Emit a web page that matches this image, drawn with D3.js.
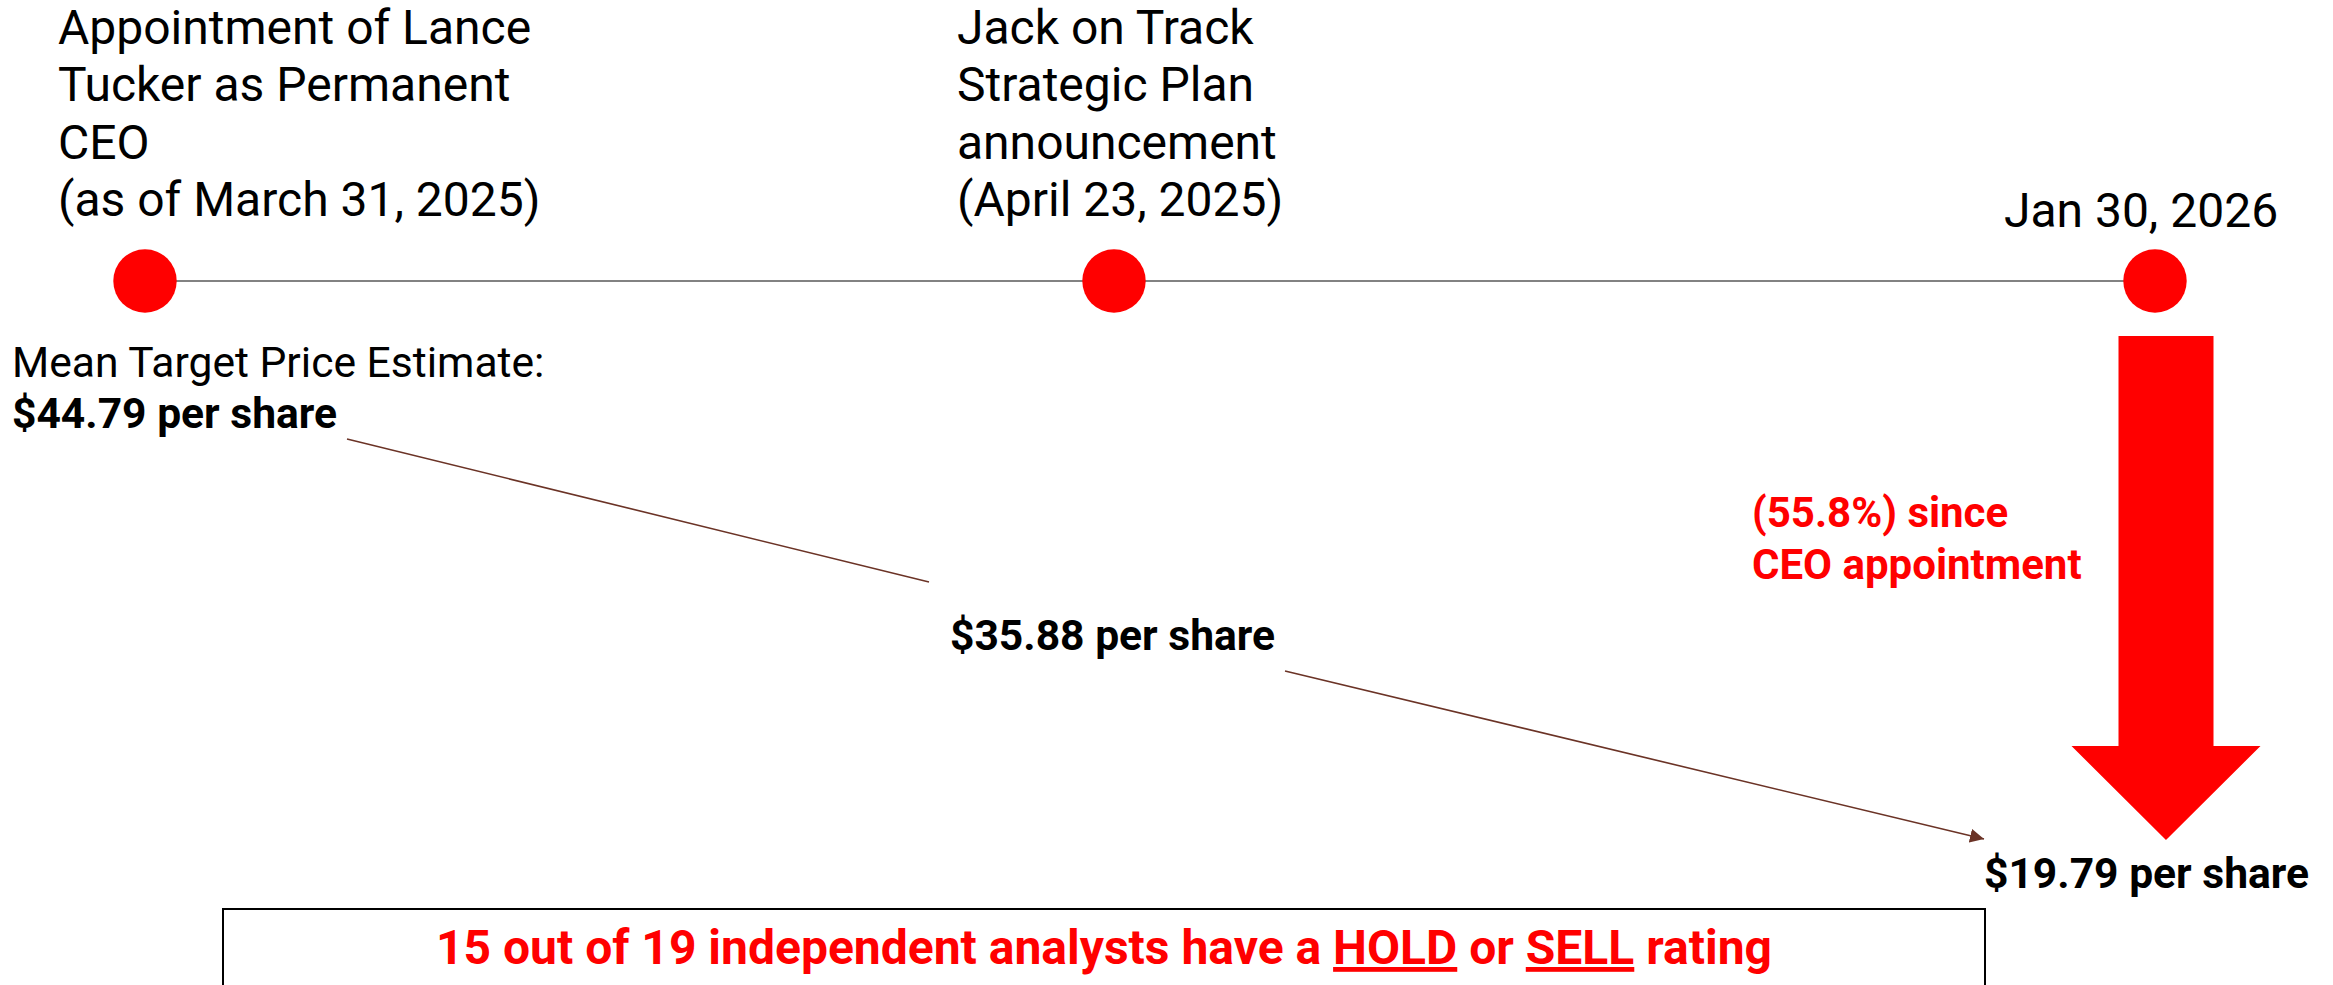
<!DOCTYPE html>
<html>
<head>
<meta charset="utf-8">
<script src="https://cdn.jsdelivr.net/npm/d3@7"></script>
<style>
	html, body { margin: 0; padding: 0; background: #fff; }
	svg { display: block; font-family: Roboto, "Open Sans", sans-serif; }
</style>
</head>
<body>
<div id="chart"></div>
<script>
// events on the timeline
var eventLabels = [
	["Appointment of Lance", "Tucker as Permanent", "CEO", "(as of March 31, 2025)"],
	["Jack on Track", "Strategic Plan", "announcement", "(April 23, 2025)"],
	["Jan 30, 2026"]
];
// mean target price at each event
var prices	= [44.79, 35.88, 19.79];
var priceTitle	= "Mean Target Price Estimate:";
// analyst ratings
var holdSell	= 15,
	analysts	= 19;

var W = 2333, H = 985;
var red = "#ff0000", brown = "#6b3326", grey = "#595959";

var svg = d3.select("#chart").append("svg").attr("width", W).attr("height", H);

var idx	= d3.range(eventLabels.length),
	x	= d3.scaleLinear().domain([0, 1, 2]).range([145, 1114, 2155]),
	yLine	= 281,
	yPrice	= d3.scaleLinear().domain([0, 1, 2]).range([428, 650, 888]);

// event label placement: offset of text from the dot, anchor and top baseline
var labelPos = [
	{dx: -87, anchor: "start", y: 44},
	{dx: -157, anchor: "start", y: 44},
	{dx: -14, anchor: "middle", y: 227}
];

// timeline
svg.append("line")
	.attr("x1", x(0)).attr("x2", x(idx.length - 1))
	.attr("y1", yLine).attr("y2", yLine)
	.attr("stroke", grey).attr("stroke-width", 1.6);

svg.selectAll("circle.evt").data(idx).enter().append("circle")
	.attr("class", "evt")
	.attr("cx", function(d) { return x(d); })
	.attr("cy", yLine)
	.attr("r", 31.7)
	.attr("fill", red);

svg.selectAll("text.evt").data(idx).enter().append("text")
	.attr("class", "evt")
	.attr("x", function(d) { return x(d) + labelPos[d].dx; })
	.attr("y", function(d) { return labelPos[d].y; })
	.attr("text-anchor", function(d) { return labelPos[d].anchor; })
	.style("font-size", "48px")
	.attr("fill", "#000")
	.each(function(d) {
		var t = d3.select(this);
		eventLabels[d].forEach(function(s, i) {
			t.append("tspan").attr("x", x(d) + labelPos[d].dx).attr("dy", i ? 57.3 : 0).text(s);
		});
	});

// price labels
var priceX = [12, 950, 1984];
svg.append("text")
	.attr("x", priceX[0]).attr("y", yPrice(0) - 51)
	.style("font-size", "42.6px")
	.text(priceTitle);

var pl = svg.selectAll("text.price").data(prices).enter().append("text")
	.attr("class", "price")
	.attr("x", function(d, i) { return priceX[i]; })
	.attr("y", function(d, i) { return yPrice(i); })
	.style("font-size", "42.6px").style("font-weight", "bold")
	.text(function(d) { return "$" + d3.format(".2f")(d) + " per share"; });

var boxes = [];
pl.each(function() { boxes.push(this.getBBox()); });

// connectors between price labels
svg.append("defs").append("marker")
	.attr("id", "tip").attr("viewBox", "0 0 10 10")
	.attr("refX", 10).attr("refY", 5)
	.attr("markerWidth", 14).attr("markerHeight", 14)
	.attr("markerUnits", "userSpaceOnUse")
	.attr("orient", "auto")
	.append("path").attr("d", "M0,0L10,5L0,10Z").attr("fill", brown);

var links = d3.pairs(d3.range(prices.length));
svg.selectAll("line.link").data(links).enter().append("line")
	.attr("class", "link")
	.attr("x1", function(d) { return boxes[d[0]].x + boxes[d[0]].width + 10; })
	.attr("y1", function(d) { return yPrice(d[0]) + (d[0] ? 21 : 11); })
	.attr("x2", function(d) { return boxes[d[1]].x - (d[1] < prices.length - 1 ? 21 : 0); })
	.attr("y2", function(d) { return yPrice(d[1]) - (d[1] < prices.length - 1 ? 68 : 49); })
	.attr("stroke", brown).attr("stroke-width", 1.6)
	.attr("marker-end", function(d) { return d[1] == prices.length - 1 ? "url(#tip)" : null; });

// big red down arrow
var ax = x(2) + 11, aTop = yLine + 55, aHead = yPrice(2) - 142, aTip = yPrice(2) - 48,
	sw = 47.5, hw = 94.5;
svg.append("path")
	.attr("d", d3.line()([
		[ax - sw, aTop], [ax + sw, aTop], [ax + sw, aHead], [ax + hw, aHead],
		[ax, aTip], [ax - hw, aHead], [ax - sw, aHead]
	]) + "Z")
	.attr("fill", red);

var drop = 1 - prices[prices.length - 1] / prices[0];
svg.append("text")
	.attr("x", 1752).attr("y", 527)
	.attr("fill", red)
	.style("font-size", "42px").style("font-weight", "bold")
	.call(function(t) {
		t.append("tspan").attr("x", 1752).text("(" + d3.format(".1%")(drop) + ") since");
		t.append("tspan").attr("x", 1752).attr("dy", 52).text("CEO appointment");
	});

// ratings box
svg.append("rect")
	.attr("x", 223).attr("y", 909)
	.attr("width", 1985 - 223).attr("height", 120)
	.attr("fill", "none").attr("stroke", "#000").attr("stroke-width", 2);

var note = svg.append("text")
	.attr("x", (223 + 1985) / 2).attr("y", 964)
	.attr("text-anchor", "middle")
	.attr("fill", red)
	.style("font-size", "48px").style("font-weight", "bold");
note.append("tspan").text(holdSell + " out of " + analysts + " independent analysts have a ");
note.append("tspan").style("text-decoration", "underline").text("HOLD");
note.append("tspan").text(" or ");
note.append("tspan").style("text-decoration", "underline").text("SELL");
note.append("tspan").text(" rating");
</script>
</body>
</html>
